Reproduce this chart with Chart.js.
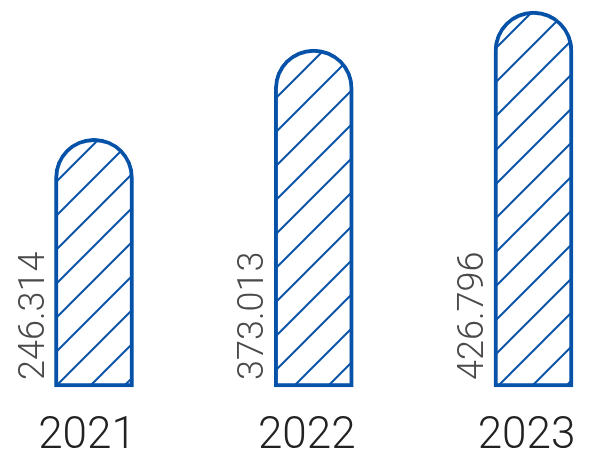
<!DOCTYPE html>
<html><head><meta charset="utf-8">
<script src="https://cdn.jsdelivr.net/npm/chart.js@4"></script>
<style>html,body{margin:0;padding:0;background:#fff}#wrap{width:590px;height:456px;position:relative}</style>
</head><body><div id="wrap"><canvas id="c"></canvas></div>
<script>
const categories = ['2021', '2022', '2023'];
const values = [246.314, 373.013, 426.796];
const valueLabels = values.map(v => v.toFixed(3));
const BLUE = '#0652a8';

function hatch() {
  const s = 34;
  const c = document.createElement('canvas');
  c.width = s; c.height = s;
  const g = c.getContext('2d');
  g.fillStyle = '#fff'; g.fillRect(0, 0, s, s);
  g.strokeStyle = BLUE; g.lineWidth = 2;
  g.beginPath();
  g.moveTo(-2, s + 2); g.lineTo(s + 2, -2);
  g.moveTo(-2, 2); g.lineTo(2, -2);
  g.moveTo(s - 2, s + 2); g.lineTo(s + 2, s - 2);
  g.stroke();
  return g.createPattern(c, 'repeat');
}

const valueLabelPlugin = {
  id: 'valueLabels',
  afterDatasetsDraw(chart) {
    const ctx = chart.ctx;
    const meta = chart.getDatasetMeta(0);
    ctx.save();
    ctx.font = '300 36px Roboto';
    ctx.fillStyle = '#4a4a4a';
    ctx.textAlign = 'left';
    ctx.textBaseline = 'alphabetic';
    meta.data.forEach((bar, i) => {
      const p = bar.getProps(['x', 'base', 'width'], true);
      ctx.save();
      ctx.translate(p.x - p.width / 2 - 11, p.base - 7);
      ctx.rotate(-Math.PI / 2);
      ctx.fillText(valueLabels[i], 0, 0);
      ctx.restore();
    });
    ctx.restore();
  }
};

new Chart(document.getElementById('c'), {
  type: 'bar',
  data: {
    labels: categories,
    datasets: [{
      data: values,
      base: -107,
      clip: false,
      backgroundColor: hatch(),
      borderColor: BLUE,
      borderWidth: 4,
      borderSkipped: false,
      borderRadius: { topLeft: 40, topRight: 40, bottomLeft: 0, bottomRight: 0 },
      barThickness: 79
    }]
  },
  options: {
    responsive: true,
    maintainAspectRatio: false,
    animation: false,
    layout: { padding: { left: 94, right: 56.5, top: 11, bottom: 0 } },
    plugins: { legend: { display: false }, tooltip: { enabled: false } },
    scales: {
      x: {
        offset: false,
        grid: { display: false, drawTicks: false },
        border: { display: false },
        afterFit(scale) { scale.height = 69; scale.paddingLeft = 0; scale.paddingRight = 0; },
        ticks: {
          color: '#222',
          font: { family: 'Roboto', size: 44, weight: '300', lineHeight: 1 },
          padding: 28, labelOffset: -7, maxRotation: 0, autoSkip: false
        }
      },
      y: { display: false, min: -107, max: 427 }
    }
  },
  plugins: [valueLabelPlugin]
});
</script>
</body></html>
